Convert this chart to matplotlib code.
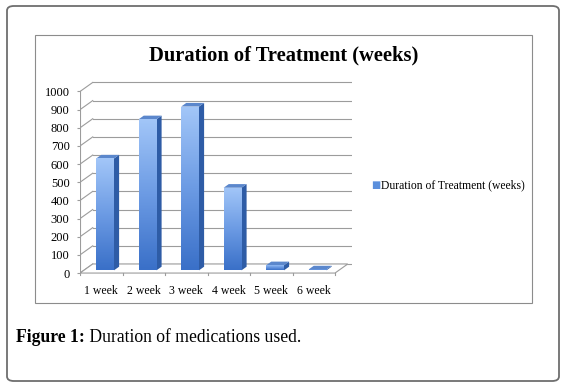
import numpy as np
import matplotlib
matplotlib.use('Agg')
import matplotlib.pyplot as plt
from matplotlib.patches import Polygon, Rectangle, FancyBboxPatch
from matplotlib.colors import LinearSegmentedColormap

categories = ['1 week', '2 week', '3 week', '4 week', '5 week', '6 week']
values = [616, 832, 902, 455, 28, 5]
yticks = list(range(0, 1001, 100))
title = 'Duration of Treatment (weeks)'
series_name = 'Duration of Treatment (weeks)'
caption_bold = 'Figure 1:'
caption_rest = ' Duration of medications used.'

W, H, DPI = 568, 388, 100
serif = ['Liberation Serif', 'DejaVu Serif']

fig = plt.figure(figsize=(W / DPI, H / DPI), dpi=DPI)

def px(x0, y0, x1, y1):
    """Figure-fraction rect from pixel box (top-left origin)."""
    return [x0 / W, 1 - y1 / H, (x1 - x0) / W, (y1 - y0) / H]

# outer rounded frame and chart frame
frame = FancyBboxPatch((7 / W, 1 - 381 / H), 552 / W, 375 / H,
                       boxstyle='round,pad=0,rounding_size=0.012',
                       transform=fig.transFigure, fill=False,
                       edgecolor='#6e6e6e', lw=1.3)
fig.patches.append(frame)
fig.patches.append(Rectangle((35 / W, 1 - 303 / H), 497 / W, 268 / H,
                             transform=fig.transFigure, fill=False,
                             edgecolor='#8c8c8c', lw=0.8))

# plot axes: front plane data y 0 at px 273, 1000 at px 91.5
ylo, yhi = -30, 1060
xlo, xhi = -0.5, 5.9
ax = fig.add_axes(px(80, 80.6, 80 + (xhi - xlo) * 42.5, 278.5))
ax.set_xlim(xlo, xhi)
ax.set_ylim(ylo, yhi)
ax.patch.set_alpha(0)
for s in ax.spines.values():
    s.set_visible(False)

dx, dy = 0.30, 50.0  # depth offset in data units
n = len(categories)
xr = n - 0.5
grid_c = '#9c9c9c'

# back wall gridlines + left wall slants
for v in yticks:
    ax.plot([xlo + dx, xr + dx + 0.12], [v + dy, v + dy], color=grid_c, lw=0.8, zorder=1)
    ax.plot([xlo, xlo + dx], [v, v + dy], color=grid_c, lw=0.8, zorder=1)
# front axis line
ax.plot([xlo, xlo], [0, 1000], color=grid_c, lw=0.8, zorder=1)
# floor
ax.add_patch(Polygon([(xlo, 0), (xr, 0), (xr + dx, dy), (xlo + dx, dy)],
                     closed=True, facecolor='white', edgecolor=grid_c, lw=0.8, zorder=1.5))
for i in range(n + 1):
    ax.plot([xlo + i, xlo + i], [0, -12], color=grid_c, lw=0.8, zorder=1.5)

# bars
f0, f1 = 0.3, 0.7
w = 0.42
pos = np.arange(n)
bars = ax.bar(pos + f0 * dx, values, width=w, bottom=f0 * dy,
              color='#4f86d6', zorder=3)
grad = LinearSegmentedColormap.from_list('g', ['#3a70c8', '#6c9be4', '#a2c6f8'])
gimg = np.linspace(0, 1, 100).reshape(-1, 1)
ddx, ddy = (f1 - f0) * dx, (f1 - f0) * dy
for b, v in zip(bars, values):
    x0 = b.get_x()
    x1 = x0 + b.get_width()
    y0 = b.get_y()
    y1 = y0 + v
    im = ax.imshow(gimg, extent=[x0, x1, y0, y1], origin='lower', aspect='auto',
                   cmap=grad, zorder=3.1)
    im.set_clip_path(b)
    ax.add_patch(Polygon([(x1, y0), (x1 + ddx, y0 + ddy), (x1 + ddx, y1 + ddy), (x1, y1)],
                         closed=True, facecolor='#2e5ca6', edgecolor='none', zorder=3))
    ax.add_patch(Polygon([(x0, y1), (x1, y1), (x1 + ddx, y1 + ddy), (x0 + ddx, y1 + ddy)],
                         closed=True, facecolor='#5b87cc', edgecolor='none', zorder=3))
ax.set_xlim(xlo, xhi)
ax.set_ylim(ylo, yhi)

ax.set_yticks(yticks)
ax.set_yticklabels([str(v) for v in yticks], fontsize=9, family=serif)
ax.tick_params(axis='y', length=2.5, color=grid_c, pad=5)
ax.set_xticks(pos)
ax.set_xticklabels(categories, fontsize=8.5, family=serif)
ax.tick_params(axis='x', length=0, pad=5)

# title
fig.text(284 / W, 1 - 55 / H, title, ha='center', va='center',
         fontsize=14.8, fontweight='bold', family=serif)

# legend
fig.text(376 / W, 1 - 185 / H, '\u25a0', color='#5b8fdc', fontsize=7,
         ha='center', va='center', family=['DejaVu Sans'])
fig.text(381 / W, 1 - 185 / H, series_name, fontsize=8.4, ha='left', va='center',
         family=serif)

# caption
t1 = fig.text(16 / W, 1 - 338 / H, caption_bold, fontsize=12.7, fontweight='bold',
              ha='left', va='center', family=serif)
fig.canvas.draw()
bb = t1.get_window_extent()
fig.text(bb.x1 / W, 1 - 338 / H, caption_rest, fontsize=12.7, ha='left',
         va='center', family=serif)

fig.savefig('out.png', dpi=DPI)
